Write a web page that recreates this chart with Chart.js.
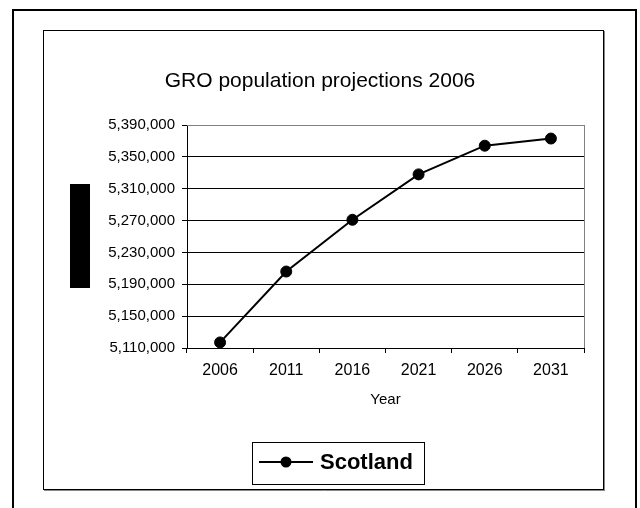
<!DOCTYPE html>
<html><head><meta charset="utf-8">
<script src="https://cdn.jsdelivr.net/npm/chart.js@4/dist/chart.umd.min.js"></script>
<style>html,body{margin:0;padding:0;background:#fff;}#wrap{position:relative;width:640px;height:508px;overflow:hidden}</style>
</head><body><div id="wrap"><canvas id="c" width="640" height="508"></canvas></div>
<script>
const years = ['2006', '2011', '2016', '2021', '2026', '2031'];
const scotland = [5117000, 5206000, 5271000, 5328000, 5364000, 5373000];
const yMin = 5110000;
const yMax = 5390000;
const yStep = 40000;
const seriesName = 'Scotland';
const chartTitle = 'GRO population projections 2006';
const xTitle = 'Year';

const FONT = '"Liberation Sans", Arial, sans-serif';

const decor = {
  id: 'decor',
  beforeDatasetsDraw(chart) {
    const {ctx, chartArea: a} = chart;
    ctx.save();
    ctx.strokeStyle = '#808080';
    ctx.lineWidth = 1;
    ctx.beginPath();
    ctx.moveTo(a.left, Math.round(a.top) + 0.5);
    ctx.lineTo(a.right, Math.round(a.top) + 0.5);
    ctx.moveTo(Math.round(a.right) + 0.5, a.top);
    ctx.lineTo(Math.round(a.right) + 0.5, a.bottom);
    ctx.stroke();
    ctx.restore();
  },
  afterDraw(chart) {
    const {ctx, chartArea: a} = chart;
    ctx.save();
    // outer frame
    ctx.strokeStyle = '#000';
    ctx.lineWidth = 2;
    ctx.strokeRect(13, 10, 623, 600);
    // inner frame
    ctx.lineWidth = 1;
    ctx.strokeStyle = '#000';
    ctx.strokeRect(43.5, 30.5, 560, 459);
    ctx.strokeStyle = '#888';
    ctx.beginPath();
    ctx.moveTo(604.5, 31); ctx.lineTo(604.5, 491);
    ctx.moveTo(44, 490.5); ctx.lineTo(605, 490.5);
    ctx.stroke();
    // title
    ctx.fillStyle = '#000';
    ctx.font = '21px ' + FONT;
    ctx.textAlign = 'center';
    ctx.textBaseline = 'alphabetic';
    ctx.fillText(chartTitle, 320, 87);
    // y-axis title block (rendered as solid block in the original)
    ctx.fillRect(70, 184, 20, 104);
    // x-axis title
    ctx.font = '15px ' + FONT;
    ctx.textBaseline = 'middle';
    ctx.fillText(xTitle, (a.left + a.right) / 2, 400);
    // legend
    const ds = chart.data.datasets[0];
    ctx.lineWidth = 1;
    ctx.strokeStyle = '#000';
    ctx.strokeRect(252.5, 442.5, 172, 42);
    ctx.lineWidth = 2;
    ctx.beginPath();
    ctx.moveTo(259, 462); ctx.lineTo(313, 462);
    ctx.stroke();
    ctx.beginPath();
    ctx.arc(286, 462, 5.5, 0, Math.PI * 2);
    ctx.fill();
    ctx.font = 'bold 22px ' + FONT;
    ctx.textAlign = 'left';
    ctx.textBaseline = 'middle';
    ctx.fillText(ds.label, 320, 463);
    ctx.restore();
  }
};

new Chart(document.getElementById('c'), {
  type: 'line',
  data: {
    labels: years,
    datasets: [{
      label: seriesName,
      data: scotland,
      borderColor: '#000',
      backgroundColor: '#000',
      borderWidth: 2,
      pointRadius: 5.5,
      pointBackgroundColor: '#000',
      pointBorderColor: '#000',
      pointBorderWidth: 1,
      tension: 0,
      clip: false
    }]
  },
  options: {
    responsive: false,
    animation: false,
    devicePixelRatio: 1,
    layout: {padding: {left: 0, top: 125, right: 56, bottom: 0}},
    plugins: {legend: {display: false}, title: {display: false}, tooltip: {enabled: false}},
    scales: {
      x: {
        type: 'category',
        offset: true,
        afterFit(s) { s.height = 160; },
        grid: {offset: true, drawOnChartArea: false, color: '#000', tickLength: 5, lineWidth: 1},
        border: {color: '#000', width: 1},
        ticks: {color: '#000', font: {family: FONT, size: 16}, padding: 8, maxRotation: 0, autoSkip: false}
      },
      y: {
        min: yMin,
        max: yMax,
        afterFit(s) { s.width = 187; },
        grid: {
          color: (c) => (c.tick && c.tick.value === yMax ? '#808080' : '#000'),
          tickColor: '#000',
          tickLength: 5,
          lineWidth: 1
        },
        border: {color: '#000', width: 1},
        ticks: {
          stepSize: yStep,
          color: '#000',
          padding: 7,
          font: {family: FONT, size: 15},
          callback: (v) => Number(v).toLocaleString('en-US')
        }
      }
    }
  },
  plugins: [decor]
});
</script></body></html>
